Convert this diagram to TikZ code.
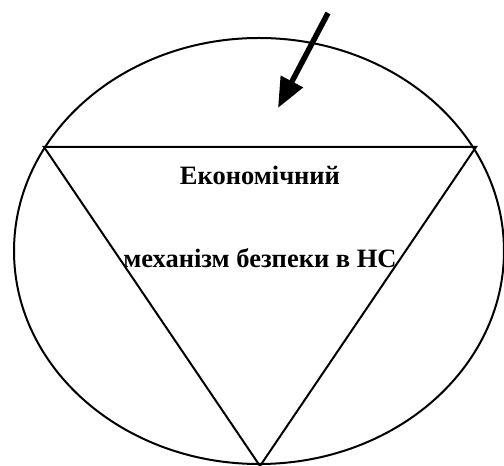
\documentclass[tikz,border=0pt]{standalone}
\usepackage{fontspec}
\setmainfont{Liberation Serif}
\usetikzlibrary{arrows.meta}

\begin{document}
\begin{tikzpicture}[x=1pt, y=1pt, line width=2pt]

\useasboundingbox (0,0) rectangle (504,466);

% ---- Outer ellipse ----
\draw (259,215) ellipse [x radius=245, y radius=213];

% ---- Inverted triangle ----
\coordinate (topL) at (44,319);
\coordinate (topR) at (476,319);
\coordinate (bot) at (260,0);
\draw (topL) -- (topR) -- (bot) -- cycle;

% Labels inside the triangle
\node[font=\fontsize{26.5}{32}\selectfont\bfseries] (title) at (260,291) {Економічний};
\node[font=\fontsize{26.5}{32}\selectfont\bfseries] (subtitle) at (260,208) {механізм безпеки в НС};

% ---- Incoming arrow ----
\coordinate (arrSrc) at (328,453);
\coordinate (arrTip) at (278,358);
\draw[line width=5.5pt, -{Triangle[length=30pt, width=24pt]}] (arrSrc) -- (arrTip);

\end{tikzpicture}
\end{document}
